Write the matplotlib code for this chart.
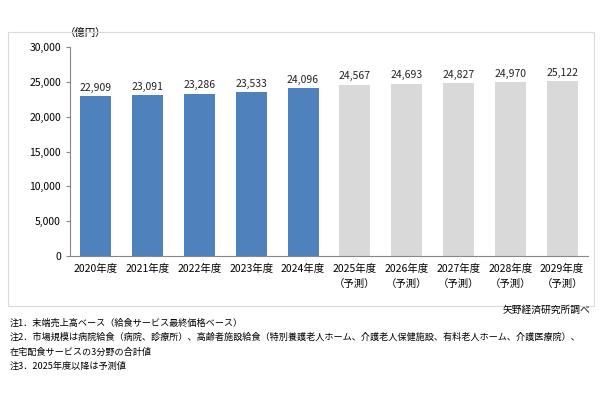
import matplotlib
matplotlib.use("Agg")
import matplotlib.pyplot as plt
from matplotlib.patches import Rectangle

plt.rcParams["font.family"] = "Noto Sans CJK JP"

years = ["2020年度", "2021年度", "2022年度", "2023年度", "2024年度",
         "2025年度\n（予測）", "2026年度\n（予測）", "2027年度\n（予測）",
         "2028年度\n（予測）", "2029年度\n（予測）"]
values = [22909, 23091, 23286, 23533, 24096, 24567, 24693, 24827, 24970, 25122]
is_forecast = [False] * 5 + [True] * 5
yticks = [0, 5000, 10000, 15000, 20000, 25000, 30000]

BLUE = "#4f81bd"
GRAY = "#d9d9d9"

fig = plt.figure(figsize=(6, 4), dpi=100)
fig.patch.set_facecolor("white")

# outer frame around the chart area
fig.add_artist(Rectangle((8 / 600, 1 - 306 / 400), 586 / 600, 274 / 400,
                         transform=fig.transFigure, fill=False,
                         edgecolor="#d9d9d9", lw=0.8))

ax = fig.add_axes([70 / 600, 1 - 256 / 400, 518 / 600, 209 / 400])
colors = [GRAY if f else BLUE for f in is_forecast]
x = range(len(years))
ax.bar(x, values, width=0.6, color=colors, zorder=2)
for xi, v in zip(x, values):
    ax.text(xi, v + 500, f"{v:,}", ha="center", va="bottom", fontsize=7.5, color="#222")

ax.set_xlim(-0.5, len(years) - 0.5)
ax.set_ylim(0, 30000)
ax.set_yticks(yticks)
ax.set_yticklabels([f"{t:,}" for t in yticks], fontsize=7.5)
ax.set_xticks(list(x))
ax.set_xticklabels(years, fontsize=7.5, linespacing=1.6)
ax.tick_params(axis="x", length=0, pad=6)
ax.tick_params(axis="y", length=3, direction="out", color="#888")
for s in ["top", "right"]:
    ax.spines[s].set_visible(False)
ax.spines["left"].set_color("#888")
ax.spines["bottom"].set_color("#888")
ax.text(-0.01, 1.045, "（億円）", transform=ax.transAxes, ha="left", va="bottom", fontsize=7.5)

fig.text(590 / 600, 1 - 310 / 400, "矢野経済研究所調べ", ha="right", va="center", fontsize=7)
notes = [
    "注1．末端売上高ベース（給食サービス最終価格ベース）",
    "注2．市場規模は病院給食（病院、診療所）、高齢者施設給食（特別養護老人ホーム、介護老人保健施設、有料老人ホーム、介護医療院）、",
    "在宅配食サービスの3分野の合計値",
    "注3．2025年度以降は予測値",
]
for i, n in enumerate(notes):
    fig.text(10 / 600, 1 - (323 + i * 14.5) / 400, n, ha="left", va="center", fontsize=6.6)

fig.savefig("out.png", dpi=100, facecolor="white")
